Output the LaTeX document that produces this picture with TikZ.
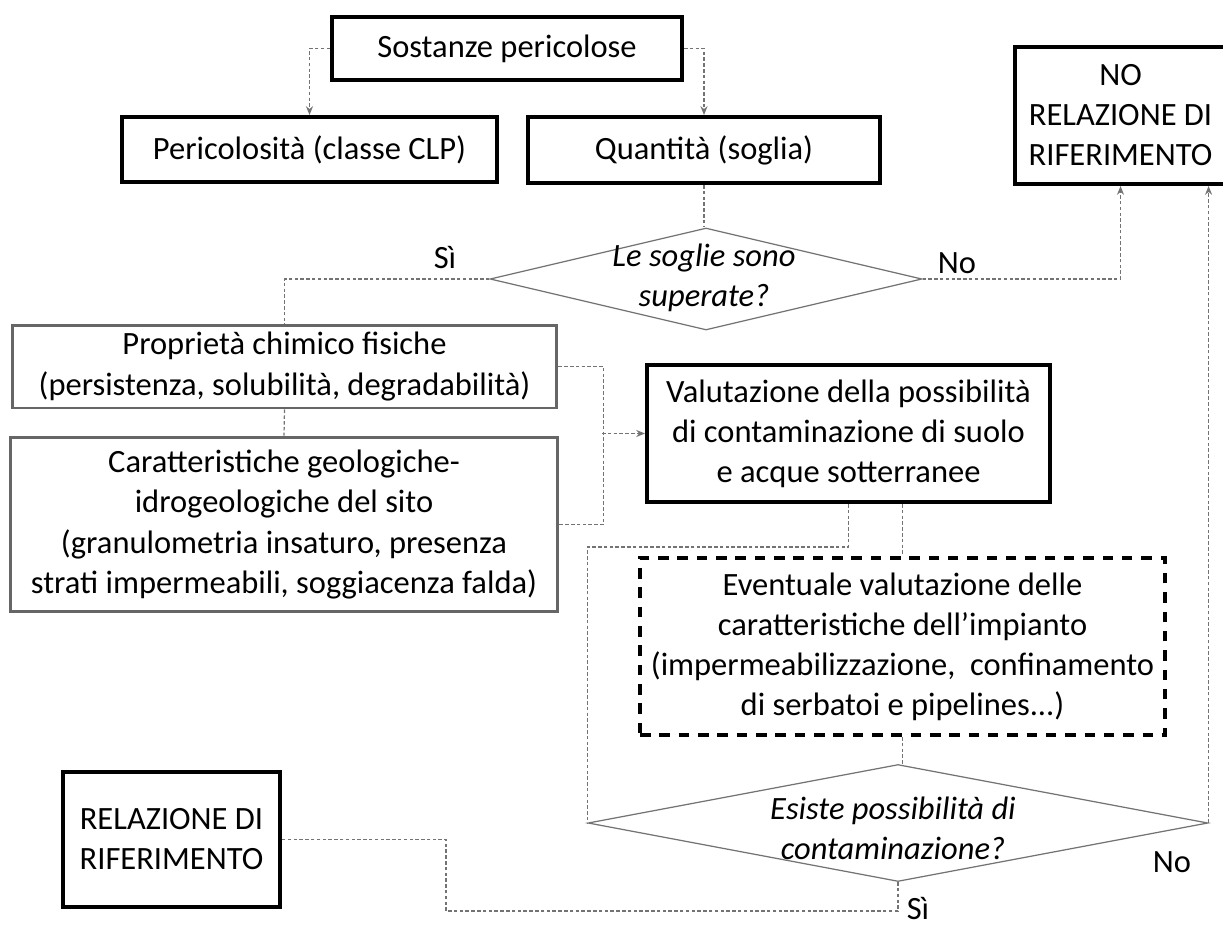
\documentclass[tikz,border=0pt]{standalone}
\usepackage{fontspec}
\setmainfont{Carlito}
\usetikzlibrary{shapes.geometric,arrows.meta}
\newcommand{\boxfont}{\fontsize{18.5}{22.8}\selectfont}
\begin{document}
\begin{tikzpicture}[x=0.02cm,y=-0.02cm,
  thickbox/.style={draw=black, line width=2.3pt, inner sep=0pt, align=center, font=\boxfont},
  graybox/.style={draw=black!60, line width=1.7pt, inner sep=0pt, align=center, font=\boxfont},
  dashbox/.style={draw=black, line width=2.3pt, dash pattern=on 6pt off 5pt, inner sep=0pt, align=center, font=\boxfont},
  dia/.style={draw=black!55, line width=0.7pt, shape=diamond, inner sep=0pt},
  ditext/.style={font=\boxfont\itshape, align=center, inner sep=0pt},
  conn/.style={draw=black!55, line width=0.7pt, dash pattern=on 2pt off 1.3pt},
  arr/.style={-{Stealth[length=5pt,width=4pt]}},
  lbl/.style={font=\boxfont, inner sep=0pt}
]
\useasboundingbox (0,0) rectangle (1223,929);
\fill[white] (0,0) rectangle (1223,929);

% boxes
\node[thickbox, minimum width=7cm, minimum height=1.26cm] (s) at (507,48.5) {Sostanze pericolose};
\node[thickbox, minimum width=7.5cm, minimum height=1.3cm] (p) at (309.5,149.5) {Pericolosità (classe CLP)};
\node[thickbox, minimum width=7.04cm, minimum height=1.32cm] (q) at (704,150) {Quantità (soglia)};
\node[thickbox, minimum width=4.22cm, minimum height=2.74cm] (n) at (1120.5,115.5) {NO\\RELAZIONE DI\\RIFERIMENTO};
\node[graybox, minimum width=10.9cm, minimum height=1.66cm] (pr) at (284.5,366.5) {Proprietà chimico fisiche\\(persistenza, solubilità, degradabilità)};
\node[graybox, minimum width=10.96cm, minimum height=3.5cm] (c) at (284,524.5) {Caratteristiche geologiche-\\idrogeologiche del sito\\(granulometria insaturo, presenza\\strati impermeabili, soggiacenza falda)};
\node[thickbox, minimum width=8.06cm, minimum height=2.74cm] (v) at (848.5,433.5) {Valutazione della possibilità\\di contaminazione di suolo\\e acque sotterranee};
\node[dashbox, minimum width=10.5cm, minimum height=3.54cm] (e) at (902.5,646.5) {Eventuale valutazione delle\\caratteristiche dell’impianto\\(impermeabilizzazione,\ \ confinamento\\di serbatoi e pipelines...)};
\node[thickbox, minimum width=4.34cm, minimum height=2.7cm] (r) at (171.5,839.5) {RELAZIONE DI\\RIFERIMENTO};

% decisions
\node[dia, minimum width=8.64cm, minimum height=2.04cm] (d1) at (706,279) {};
\node[ditext] (d1t) at (704,278) {Le soglie sono\\superate?};
\node[dia, minimum width=12.4cm, minimum height=2.34cm] (d2) at (898,823) {};
\node[ditext] (d2t) at (893,828) {Esiste possibilità di\\contaminazione?};

% labels
\node[lbl] (l1) at (445,258) {Sì};
\node[lbl] (l2) at (957,263) {No};
\node[lbl] (l3) at (1172,862) {No};
\node[lbl] (l4) at (918,908) {Sì};

% connectors
\draw[conn,arr] (s.west) -| (p.north);
\draw[conn,arr] (s.east) -| (q.north);
\draw[conn] (q.south) -- (q.south |- d1.north);
\draw[conn] (d1.west) -| (pr.north);
\draw[conn,arr] (d1.east) -| (n.south);
\draw[conn] (pr.south) -- (c.north);
\draw[conn] (pr.east) -- ++(45,0) |- (c.east);
\coordinate (br) at (602,433.5);
\draw[conn,arr] (br) -- (br -| v.west);
\draw[conn] (v.south) -- ++(0,43) -| (d2.west);
\draw[conn] (v.south -| e.north) -- (e.north);
\draw[conn] (e.south) -- (e.south |- d2.north);
\draw[conn,arr] (d2.east) -- (d2.east |- n.south);
\coordinate (rb) at (446,839.5);
\draw[conn] (d2.south) -- ++(0,29) -| (rb) -- (r.east);
\end{tikzpicture}
\end{document}
